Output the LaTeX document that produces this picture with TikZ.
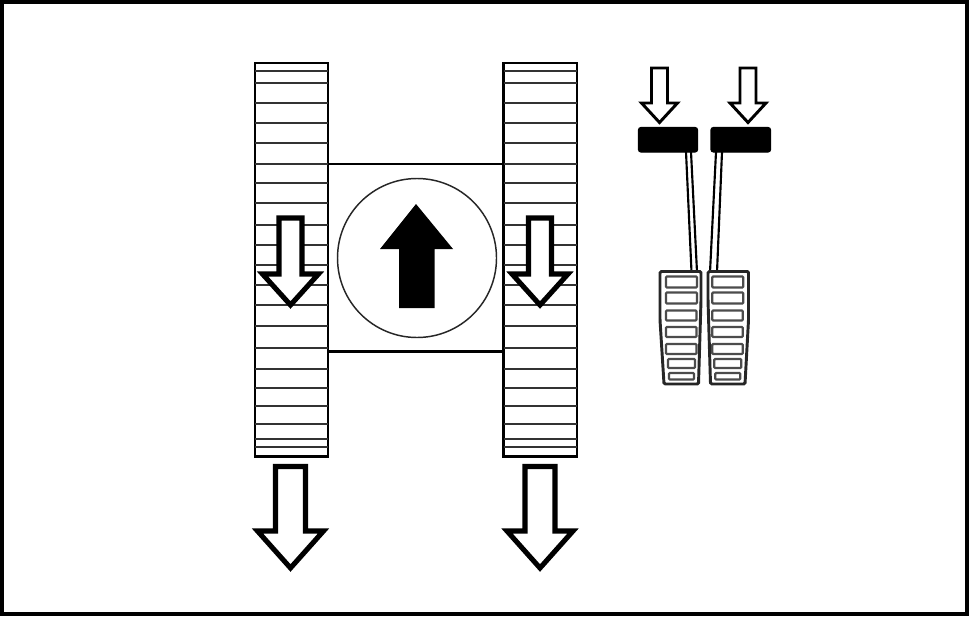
\documentclass[tikz,border=0pt]{standalone}
\begin{document}
\begin{tikzpicture}[x=0.75pt,y=-0.75pt,
  frameline/.style={draw=black,line width=3pt},
  trackbox/.style={draw=black,line width=2.2pt,fill=white},
  cleat/.style={draw=black!80,line width=1.6pt},
  hollow/.style={draw=black,fill=white,line width=3.8pt,miter limit=10,line join=miter},
  hollowthin/.style={draw=black,fill=white,line width=2.2pt,line join=miter},
  solidarrow/.style={fill=black,draw=none},
  bodyline/.style={draw=black,line width=1.7pt},
  wheel/.style={draw=black!85,line width=1.1pt,fill=white},
  padblock/.style={fill=black,draw=black,line width=1pt,rounded corners=2pt},
  rod/.style={draw=black,line width=1.6pt},
  pedal/.style={draw=black!85,line width=2.2pt,fill=white,rounded corners=1pt},
  slat/.style={draw=black!70,line width=1.6pt,fill=white,rounded corners=0.7pt}]
\useasboundingbox (0,0) rectangle (969,617);
\fill[white] (0,0) rectangle (969,617);
\draw[frameline] (1.8,2.4) rectangle (966.6,614.4);

% body and steering disc
\draw[bodyline] (328,164) -- (503,164);
\draw[bodyline] (328,351.5) -- (503,351.5);
\draw[wheel] (417,258) circle (79.5);
\fill[solidarrow] (416,204) -- (453,249) -- (434.5,249) -- (434.5,308) -- (399,308) -- (399,249) -- (380,249) -- cycle;

% tracks
\foreach \xa/\xb in {255/328,503.5/577}{
  \draw[trackbox] (\xa,63) rectangle (\xb,456.5);
  \foreach \yy in {71,83,103,123,143,164,183,203,225,245,265,285,305,326,348,369,388,406,424,439,447}{
    \draw[cleat] (\xa,\yy) -- (\xb,\yy);
  }
}

% arrows on the tracks
\foreach \c in {290.5,540}{
  \draw[hollow] (\c-11.5,218) -- (\c+11.5,218) -- (\c+11.5,274) -- (\c+28,274) -- (\c,305) -- (\c-28,274) -- (\c-11.5,274) -- cycle;
  \draw[hollow] (\c-15,466.5) -- (\c+15,466.5) -- (\c+15,531) -- (\c+33,531) -- (\c,568) -- (\c-33,531) -- (\c-15,531) -- cycle;
}

% pedal arrows
\foreach \c in {659.5,748}{
  \draw[hollowthin] (\c-8,68) -- (\c+8,68) -- (\c+8,103) -- (\c+18,103) -- (\c,122.5) -- (\c-18,103) -- (\c-8,103) -- cycle;
}

% pedal rods
\draw[rod] (686,152) -- (691.5,272);
\draw[rod] (691,152) -- (697,272);
\draw[rod] (716,152) -- (710,272);
\draw[rod] (722,152) -- (717,272);

% brake blocks
\draw[padblock] (638.5,127.5) rectangle (697.5,152);
\draw[padblock] (711,127.5) rectangle (770.5,152);

% pedals
\draw[pedal] (660,271.5) -- (701,271.5) -- (701,300) -- (698.5,384) -- (664,384) -- (660,320) -- cycle;
\draw[pedal] (708,271.5) -- (748.5,271.5) -- (748.5,320) -- (745,384) -- (710.5,384) -- (708,300) -- cycle;
\foreach \off in {0,46.3}{
  \draw[slat] (666+\off,276.5) rectangle (697+\off,287.5);
  \draw[slat] (666+\off,292.5) rectangle (697+\off,303.5);
  \draw[slat] (666+\off,310.5) rectangle (696.5+\off,320.5);
  \draw[slat] (666+\off,327) rectangle (696.5+\off,337);
  \draw[slat] (666+\off,344) rectangle (696.5+\off,354);
  \draw[slat] (668+\off,359) rectangle (695+\off,368);
  \draw[slat] (669+\off,373) rectangle (694+\off,379.5);
}
\end{tikzpicture}
\end{document}
